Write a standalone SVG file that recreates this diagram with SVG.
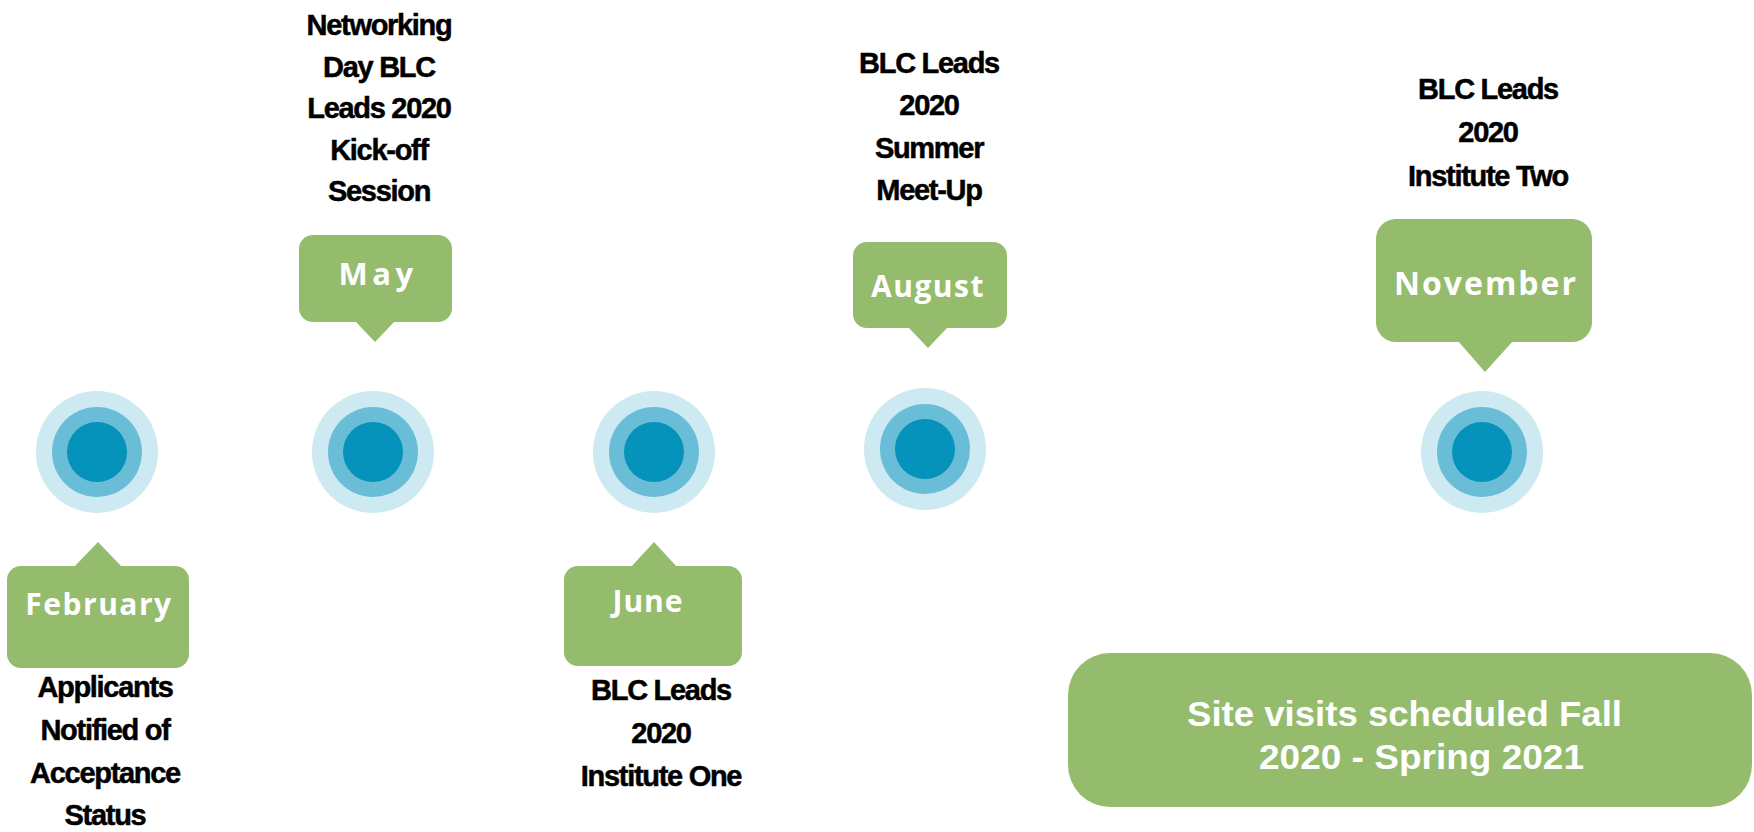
<svg xmlns="http://www.w3.org/2000/svg" width="1754" height="832" viewBox="0 0 1754 832">
<style>
.o{fill:#cde9f1}.m{fill:#69bdd7}.i{fill:#0592bb}
.g{fill:#94bc6c}
.mo{font-family:"Open Sans","Liberation Sans",sans-serif;font-weight:700;fill:#ffffff;text-anchor:middle;font-size:30px}
.sv{font-family:"Liberation Sans",Arial,sans-serif;font-weight:700;fill:#ffffff;font-size:35px}
.lb{font-family:"Liberation Sans",Arial,sans-serif;font-weight:700;fill:#000000;stroke:#000000;stroke-width:0.5px;text-anchor:middle;font-size:29px;letter-spacing:-1.3px}
</style>
<rect width="1754" height="832" fill="#ffffff"/>
<g id="connectors"></g>
<g id="feb">
<circle class="o" cx="97" cy="452" r="61"/><circle class="m" cx="97" cy="452" r="45"/><circle class="i" cx="97" cy="452" r="30"/>
<rect class="g" x="7" y="566" width="182" height="102" rx="14"/>
<polygon class="g" points="74,567 98,542 122,567"/>
<text class="mo" x="99" y="615" style="letter-spacing:1.5px">February</text>
<text class="lb" x="105" y="697">Applicants</text>
<text class="lb" x="105" y="740">Notified of</text>
<text class="lb" x="105" y="783">Acceptance</text>
<text class="lb" x="105" y="825">Status</text>
</g>
<g id="may">
<circle class="o" cx="373" cy="452" r="61"/><circle class="m" cx="373" cy="452" r="45"/><circle class="i" cx="373" cy="452" r="30"/>
<rect class="g" x="299" y="235" width="153" height="87" rx="14"/>
<polygon class="g" points="355,321 375,342 395,321"/>
<text class="mo" x="378" y="285" style="letter-spacing:4.5px;font-size:31px">May</text>
<text class="lb" x="379" y="35">Networking</text>
<text class="lb" x="379" y="76.5">Day BLC</text>
<text class="lb" x="379" y="118">Leads 2020</text>
<text class="lb" x="379" y="159.5">Kick-off</text>
<text class="lb" x="379" y="201">Session</text>
</g>
<g id="june">
<circle class="o" cx="654" cy="452" r="61"/><circle class="m" cx="654" cy="452" r="45"/><circle class="i" cx="654" cy="452" r="30"/>
<rect class="g" x="564" y="566" width="178" height="100" rx="14"/>
<polygon class="g" points="631,567 654,542 677,567"/>
<text class="mo" x="648" y="612" style="letter-spacing:1px">June</text>
<text class="lb" x="661" y="700">BLC Leads</text>
<text class="lb" x="661" y="743">2020</text>
<text class="lb" x="661" y="786">Institute One</text>
</g>
<g id="august">
<circle class="o" cx="925" cy="449" r="61"/><circle class="m" cx="925" cy="449" r="45"/><circle class="i" cx="925" cy="449" r="30"/>
<rect class="g" x="853" y="242" width="154" height="86" rx="14"/>
<polygon class="g" points="908,327 928,348 948,327"/>
<text class="mo" x="928" y="297" style="letter-spacing:1.5px">August</text>
<text class="lb" x="929" y="73">BLC Leads</text>
<text class="lb" x="929" y="115">2020</text>
<text class="lb" x="929" y="158">Summer</text>
<text class="lb" x="929" y="200">Meet-Up</text>
</g>
<g id="november">
<circle class="o" cx="1482" cy="452" r="61"/><circle class="m" cx="1482" cy="452" r="45"/><circle class="i" cx="1482" cy="452" r="30"/>
<rect class="g" x="1376" y="219" width="216" height="123" rx="20"/>
<polygon class="g" points="1458,341 1485,372 1513,341"/>
<text class="mo" x="1486" y="295" style="letter-spacing:2px;font-size:32px">November</text>
<text class="lb" x="1488" y="99">BLC Leads</text>
<text class="lb" x="1488" y="142">2020</text>
<text class="lb" x="1488" y="186">Institute Two</text>
</g>
<g id="site-visits">
<rect class="g" x="1068" y="653" width="684" height="154" rx="42" ry="42"/>
<text class="sv" x="1187" y="726" textLength="435" lengthAdjust="spacingAndGlyphs">Site visits scheduled Fall</text>
<text class="sv" x="1259" y="769" textLength="325" lengthAdjust="spacingAndGlyphs">2020 - Spring 2021</text>
</g>
</svg>
